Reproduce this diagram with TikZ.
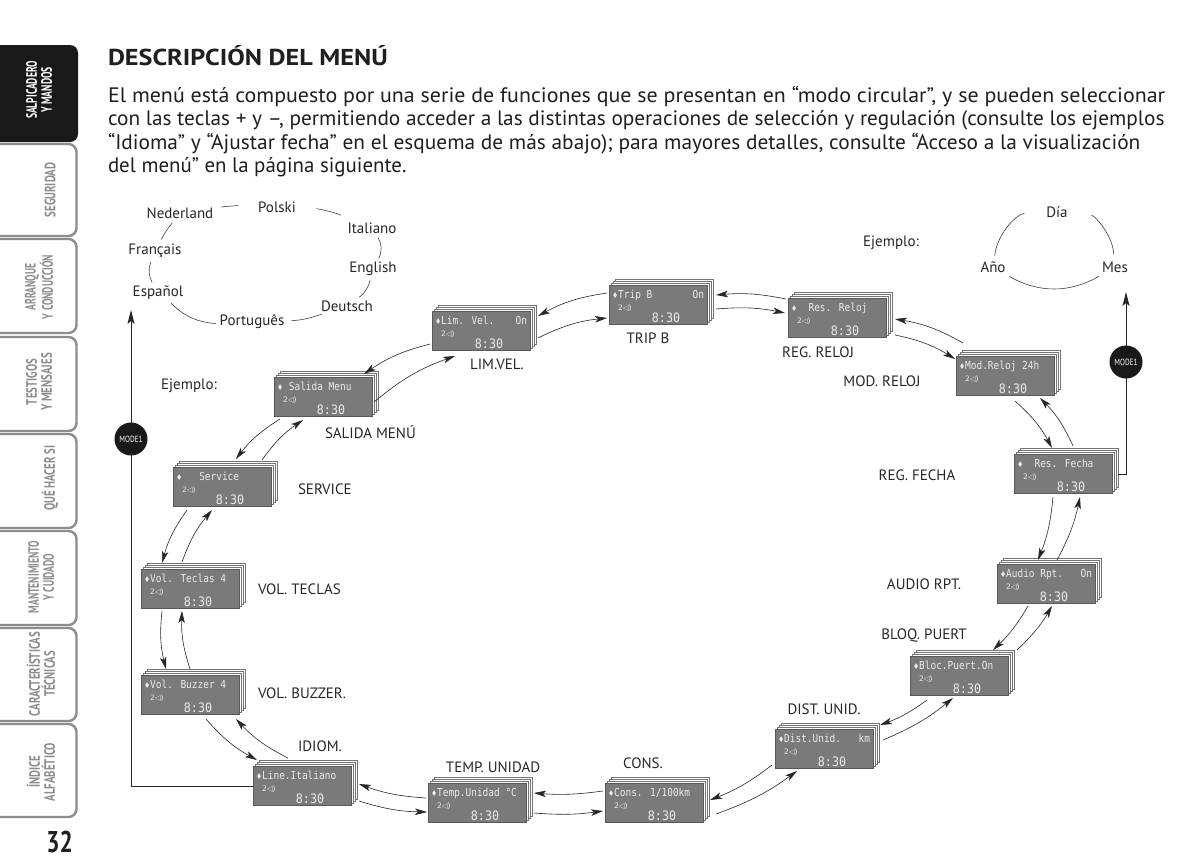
\documentclass[tikz,border=0pt]{standalone}
\usepackage{graphicx}
\usepackage{fontspec}
\setmainfont{PT Sans}
\newfontfamily\lcdfont{DejaVu Sans Mono}
\newfontfamily\symfont{DejaVu Sans}
\usetikzlibrary{arrows.meta,calc}
\tikzset{
  every node/.style={inner sep=0pt, outer sep=0pt},
  para/.style={anchor=base west, font=\fontsize{20.9}{21}\selectfont, text=black!88},
  lbl/.style={font=\fontsize{15}{16}\selectfont, text=black!85},
  lang/.style={font=\fontsize{15}{16}\selectfont, text=black!85, inner sep=2pt},
  langarc/.style={draw=black!75, line width=0.6pt},
  lcdbox/.style={draw=black!65, fill=black!52, minimum width=98pt, minimum height=39pt, line width=0.4pt},
  sheet/.style={draw=black!55, fill=white, line width=0.5pt},
  lcdtxt/.style={anchor=base west, font=\lcdfont\fontsize{11}{11}\selectfont, text=white!92!black},
  lcdsm/.style={anchor=base west, font=\symfont\fontsize{7.5}{7.5}\selectfont, text=white!92!black},
  lcdbig/.style={anchor=base, font=\lcdfont\fontsize{13}{13}\selectfont, text=white!92!black},
  nav/.style={draw=black!85, line width=0.6pt, -{Stealth[length=12pt,width=6.5pt,inset=3pt]}},
  loopline/.style={draw=black!85, line width=0.9pt, -{Stealth[length=14pt,width=7pt,inset=3pt]}},
  modebtn/.style={circle, fill=black!90, minimum size=33pt, text=white, font=\fontsize{9}{9}\selectfont},
  tabw/.style={draw=black!45, line width=2.4pt, fill=white, rounded corners=8pt},
  tabtxt/.style={rotate=90, font=\bfseries\fontsize{15}{15}\selectfont, text=black!45, align=center},
}
\newcommand\tabl[1]{\scalebox{0.72}[1]{#1}}
\newcommand\tabk[1]{\scalebox{0.64}[1]{#1}}
\newcommand\lcd[5]{%
  \begin{scope}[shift={(#2,#3)}]
    \foreach \k in {3,2,1}{\draw[sheet] (-49+2*\k,-19.5-2*\k) rectangle (49+2*\k,19.5-2*\k);}
    \node[lcdbox] (#1) at (0,0) {};
  \end{scope}
  \node[lcdtxt] (#1-a) at ($(#1.north west)+(3,13)$) {\scalebox{0.86}[1]{\hbox to 107pt{{\symfont\fontsize{8}{8}\selectfont ♦}#4\hfil #5}}};
  \node[lcdsm] (#1-b) at ($(#1.north west)+(9,25)$) {2◁)};
  \node[lcdbig] (#1-c) at ($(#1.north west)+(57,37)$) {\scalebox{0.9}[1]{8:30}};
}
\newcommand\navp[7]{%
  \draw[nav] ($(#1)+(#2)$) to[bend left=#7] ($(#3)+(#4)$);
  \draw[nav] ($(#3)+(#5)$) to[bend right=#7] ($(#1)+(#6)$);
}
\begin{document}
\begin{tikzpicture}[x=1pt,y=-1pt]
\fill[white] (0,0) rectangle (1186,863);
\useasboundingbox (0,0) rectangle (1186,863);

% ---- side tabs
\fill[black!90, rounded corners=8pt] (-10,45) rectangle (78,142);
\foreach \t/\b in {143/237,238/334,336/432,433/529,530/626,627/722,723/818}
  \draw[tabw] (-10,\t+1) rectangle (76.5,\b-1);
\node[tabtxt, text=white] (tab1) at (39,90) {\tabk{SALPICADERO}\\\tabk{Y MANDOS}};
\node[tabtxt] (tab2) at (50,190) {\tabl{SEGURIDAD}};
\node[tabtxt] (tab3) at (39,287) {\tabk{ARRANQUE}\\\tabk{Y CONDUCCIÓN}};
\node[tabtxt] (tab4) at (39,382) {\tabl{TESTIGOS}\\\tabl{Y MENSAJES}};
\node[tabtxt] (tab5) at (50,478) {\tabl{QUÉ HACER SI}};
\node[tabtxt] (tab6) at (41,577) {\tabk{MANTENIMIENTO}\\\tabk{Y CUIDADO}};
\node[tabtxt] (tab7) at (41,674) {\tabl{CARACTERÍSTICAS}\\\tabl{TÉCNICAS}};
\node[tabtxt] (tab8) at (41,772) {\tabl{ÍNDICE}\\\tabl{ALFABÉTICO}};
\node[anchor=base east, font=\bfseries\fontsize{30}{30}\selectfont, text=black!88] (pnum) at (73,852) {\scalebox{0.78}[1]{32}};

% ---- heading and text
\node[anchor=base west, font=\bfseries\fontsize{23}{23}\selectfont, text=black!88] (title) at (108,65) {\scalebox{1.14}[1]{DESCRIPCIÓN DEL MENÚ}};
\node[para] (p1) at (108,102) {\scalebox{1.05}[1]{El menú está compuesto por una serie de funciones que se presentan en “modo circular”, y se pueden seleccionar}};
\node[para] (p2) at (108,125.5) {\scalebox{1.018}[1]{con las teclas + y –, permitiendo acceder a las distintas operaciones de selección y regulación (consulte los ejemplos}};
\node[para] (p3) at (108,149) {\scalebox{1.022}[1]{“Idioma” y “Ajustar fecha” en el esquema de más abajo); para mayores detalles, consulte “Acceso a la visualización}};
\node[para] (p4) at (108,172.5) {del menú” en la página siguiente.};

% ---- language example
\node[lang] (ned) at (180,213) {Nederland};
\node[lang] (pol) at (277,207) {Polski};
\node[lang] (ita) at (372,228) {Italiano};
\node[lang] (eng) at (373,269) {English};
\node[lang] (deu) at (347,306) {Deutsch};
\node[lang] (por) at (252,322) {Português};
\node[lang] (esp) at (158,293) {Español};
\node[lang] (fra) at (155,251) {Français};
\draw[langarc, shorten <=6pt, shorten >=18pt] (ned) to[bend left=5] (pol);
\draw[langarc, shorten <=18pt, shorten >=14pt] (pol) to[bend left=10] (ita);
\draw[langarc, shorten <=3pt, shorten >=2pt] (ita) to[bend left=30] (eng);
\draw[langarc, shorten <=2pt, shorten >=2pt] (eng) to[bend left=20] (deu);
\draw[langarc, shorten <=2pt, shorten >=5pt] (deu) to[bend left=8] (por);
\draw[langarc, shorten <=2pt, shorten >=2pt] (por) to[bend left=20] (esp);
\draw[langarc, shorten <=2pt, shorten >=2pt] (esp) to[bend left=25] (fra);
\draw[langarc, shorten <=3pt, shorten >=3pt] (fra) to[bend left=5] (ned);

% ---- date example
\node[lang] (dia) at (1057,212) {Día};
\node[lang] (ano) at (993,267) {Año};
\node[lang] (mes) at (1115,267) {Mes};
\draw[langarc, shorten <=4pt, shorten >=20pt] (ano) to[bend left=40] (dia);
\draw[langarc, shorten <=22pt, shorten >=5pt] (dia) to[bend left=40] (mes);
\draw[langarc, shorten <=4pt, shorten >=4pt] (mes) to[bend left=30] (ano);

\node[lbl] (ej1) at (189,386) {Ejemplo:};
\node[lbl] (ej2) at (891,243) {Ejemplo:};

% ---- displays
\lcd{lim}{481}{331}{Lim. Vel.}{On}
\lcd{trip}{658}{305}{Trip B}{On}
\lcd{res}{837}{318}{\ \ Res. Reloj}{}
\lcd{mod}{1005}{376}{Mod.Reloj 24h}{}
\lcd{fecha}{1063}{474}{\ \ Res. Fecha}{}
\lcd{audio}{1046}{584}{Audio Rpt.}{On}
\lcd{bloc}{959}{676}{Bloc.Puert.On}{}
\lcd{dist}{824}{749}{Dist.Unid.}{km}
\lcd{cons}{654}{803}{Cons. 1/100km}{}
\lcd{temp}{477}{803}{Temp.Unidad °C}{}
\lcd{line}{302}{786}{Line.Italiano}{}
\lcd{buzzer}{190}{695}{Vol. Buzzer 4}{}
\lcd{teclas}{190}{589}{Vol. Teclas 4}{}
\lcd{service}{222}{487}{\ \ \ Service}{}
\lcd{salida}{323}{397}{\ Salida Menu}{}

% ---- labels
\node[lbl] (l1) at (497,364) {LIM.VEL.};
\node[lbl] (l2) at (648,338) {TRIP B};
\node[lbl] (l3) at (818,352) {REG. RELOJ};
\node[lbl] (l4) at (882,381) {MOD. RELOJ};
\node[lbl] (l5) at (917,475) {REG. FECHA};
\node[lbl] (l6) at (924,584) {AUDIO RPT.};
\node[lbl] (l7) at (924,636) {BLOQ. PUERT};
\node[lbl] (l8) at (824,709) {DIST. UNID.};
\node[lbl] (l9) at (643,763) {CONS.};
\node[lbl] (l10) at (493,767) {TEMP. UNIDAD};
\node[lbl] (l11) at (320,746) {IDIOM.};
\node[lbl, anchor=west] (l12) at (258,693) {VOL. BUZZER.};
\node[lbl, anchor=west] (l13) at (258,589) {VOL. TECLAS};
\node[lbl, anchor=west] (l14) at (298,489) {SERVICE};
\node[lbl, anchor=west] (l15) at (325,432) {SALIDA MENÚ};

% ---- navigation arrows (clockwise inner, counter-clockwise outer)
\navp{lim}{57,7}{trip}{-51,13}{-51,-12}{57,-15}{10}
\navp{trip}{58,4}{res}{-52,-5}{-51,-19}{58,-10}{8}
\navp{res}{58,17}{mod}{-50,-17}{-42,-33}{58,1}{10}
\navp{mod}{10,25}{fecha}{-11,-26}{10,-28}{35,22}{10}
\navp{fecha}{-10,23}{audio}{-8,-24}{11,-24}{17,23}{8}
\navp{audio}{-18,22}{bloc}{34,-26}{58,-26}{6,22}{8}
\navp{bloc}{-32,24}{dist}{56,-24}{59,-9}{-6,22}{8}
\navp{dist}{-52,16}{cons}{56,-3}{62,11}{-27,22}{8}
\navp{cons}{-51,-12}{temp}{57,-10}{57,10}{-51,8}{6}
\navp{temp}{-51,-5}{line}{57,-2}{57,15}{-50,9}{8}
\navp{line}{-14,-28}{buzzer}{46,24}{16,24}{-45,-26}{10}
\navp{buzzer}{0,-26}{teclas}{-8,22}{-28,22}{-24,-26}{10}
\navp{teclas}{-8,-27}{service}{-10,23}{-35,23}{-28,-26}{10}
\navp{service}{40,-27}{salida}{-20,23}{-43,22}{14,-28}{10}
\navp{salida}{51,5}{lim}{-26,25}{-51,13}{41,-23}{10}

% ---- MODE loops
\coordinate (ltip) at (131,310);
\coordinate (rtip) at (1126,292);
\draw[loopline] (line.west) -| (ltip);
\draw[loopline] ([xshift=6pt]fecha.east) -| (rtip);
\node[modebtn] (m1) at (131,439) {\scalebox{0.8}[1]{MODE1}};
\node[modebtn] (m2) at (1126,362) {\scalebox{0.8}[1]{MODE1}};
\end{tikzpicture}
\end{document}
